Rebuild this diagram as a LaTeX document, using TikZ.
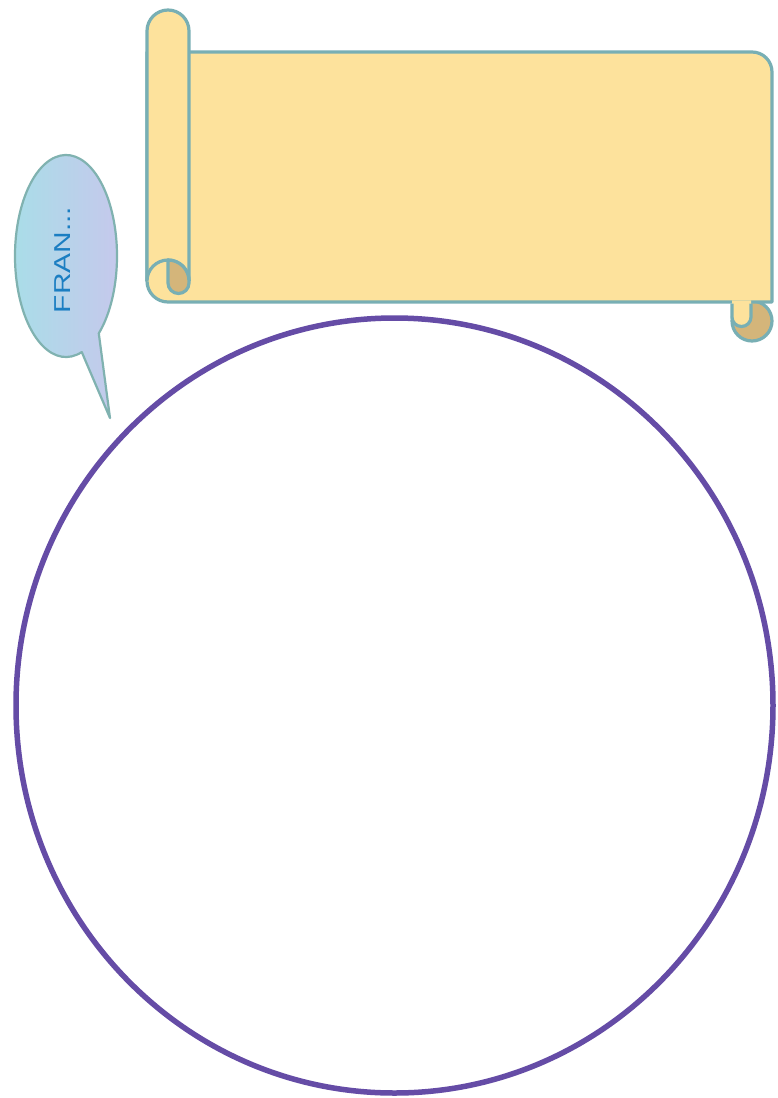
\documentclass[tikz,border=0pt]{standalone}
\usepackage{fontspec}
\setsansfont{Liberation Sans}
\definecolor{paper}{RGB}{253,226,156}
\definecolor{rim}{RGB}{120,175,180}
\definecolor{curl}{RGB}{212,181,122}
\definecolor{ringpurple}{RGB}{101,76,166}
\definecolor{bubbleleft}{RGB}{168,222,232}
\definecolor{bubbleright}{RGB}{198,200,236}
\definecolor{bubblerim}{RGB}{128,178,176}
\definecolor{franblue}{RGB}{27,126,194}

\begin{document}
\begin{tikzpicture}[x=1pt,y=-1pt,
    scrollpart/.style={fill=paper,draw=rim,line width=3.2pt,line join=round},
    curlpart/.style={fill=curl,draw=rim,line width=3.2pt,line join=round},
    bubble/.style={left color=bubbleleft,right color=bubbleright,draw=bubblerim,line width=2.2pt,line join=round},
    ring/.style={draw=ringpurple,line width=5.5pt}]
    \path[fill=white] (0,0) rectangle (778,1098);

    % scroll
    \begin{scope}
        \draw[curlpart] (752,321) circle[radius=20];
        \draw[scrollpart] (168,52) -- (752,52) arc[start angle=-90,end angle=0,radius=20]
            -- (772,302) -- (168,302) arc[start angle=90,end angle=180,radius=21] -- (147,52) -- cycle;
        \fill[paper] (732,300.4) -- (732,317) arc[start angle=180,end angle=0,radius=9.5] -- (751,300.4) -- cycle;
        \draw[scrollpart,fill=none] (732,303.6) -- (732,317) arc[start angle=180,end angle=0,radius=9.5] -- (751,303.6);
        \draw[scrollpart] (147,281) -- (147,31) arc[start angle=180,end angle=360,radius=21] -- (189,281);
        \draw[scrollpart] (147,281) arc[start angle=180,end angle=360,radius=21];
        \draw[curlpart] (168,260) -- (168,283) arc[start angle=180,end angle=0,radius=10.5]
            -- (189,281) arc[start angle=0,end angle=-90,radius=21] -- cycle;
    \end{scope}

    % speech bubble
    \draw[bubble] (66,256) ++(72:51 and 101) arc[start angle=72,end angle=410,x radius=51,y radius=101]
        -- (110,418) -- cycle;
    \node[rotate=90,text=franblue,font=\sffamily\fontsize{23}{23}\selectfont] (fran) at (63,260)
        {\scalebox{1.3}[1]{FRAN...}};

    % big circle
    \draw[ring] (394.5,705.5) ellipse[x radius=378.5,y radius=387.5];
\end{tikzpicture}
\end{document}
